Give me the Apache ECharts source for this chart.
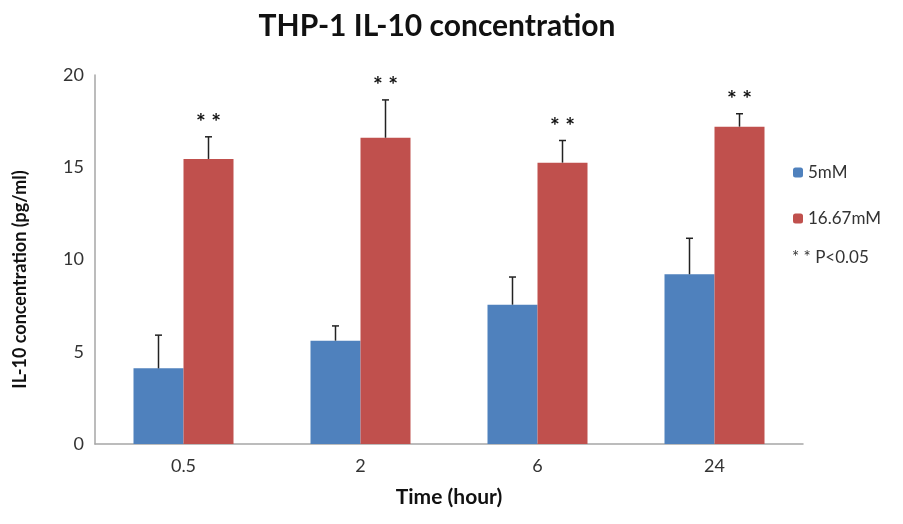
<!DOCTYPE html>
<html>
<head>
<meta charset="utf-8">
<script src="https://cdn.jsdelivr.net/npm/echarts@6/dist/echarts.min.js"></script>
<style>
  html, body { margin: 0; padding: 0; background: #fff; }
  #main { width: 903px; height: 524px; }
</style>
</head>
<body>
<div id="main"></div>
<script>
// 数据
var categories = ['0.5', '2', '6', '24'];
var low = [4.1, 5.6, 7.55, 9.2];        // 5mM
var lowErr = [1.8, 0.8, 1.5, 1.95];
var high = [15.45, 16.6, 15.25, 17.2];  // 16.67mM
var highErr = [1.2, 2.05, 1.2, 0.7];
var yTicks = [0, 5, 10, 15, 20];

var BLUE = '#4f81bd', RED = '#c0504d';
var CAT_GAP = 0.435;

function errData(vals, errs) {
  return vals.map(function (v, i) { return [i, v, errs[i]]; });
}

// 误差线 (只画上方), side: -1 左边柱, 1 右边柱
function errorRenderer(side, stars) {
  return function (params, api) {
    var i = api.value(0);
    var top = api.coord([i, api.value(1) + api.value(2)]);
    var base = api.coord([i, api.value(1)]);
    var band = api.size([1, 0])[0];
    var bw = band * (1 - CAT_GAP) / 2;
    var x = base[0] + side * bw / 2;
    var children = [
      { type: 'line', shape: { x1: x, y1: base[1], x2: x, y2: top[1] },
        style: { stroke: '#222', lineWidth: 1.5 } },
      { type: 'line', shape: { x1: x - 3.5, y1: top[1], x2: x + 3.5, y2: top[1] },
        style: { stroke: '#222', lineWidth: 1.5 } }
    ];
    if (stars) {
      children.push({ type: 'text', style: {
        x: x, y: top[1] - 14, text: '* *', align: 'center', verticalAlign: 'middle',
        font: 'bold 23px Lato', fill: '#111' } });
    }
    return { type: 'group', children: children };
  };
}

var myChart = echarts.init(document.getElementById('main'));
myChart.setOption({
  backgroundColor: '#fff',
  animation: false,
  title: {
    text: 'THP-1 IL-10 concentration',
    left: 432, top: 6, textAlign: 'center',
    textStyle: { fontFamily: 'Lato', fontWeight: 'bold', fontSize: 30, color: '#111' }
  },
  legend: {
    orient: 'vertical', left: 788, top: 159,
    itemWidth: 10, itemHeight: 10, itemGap: 29,
    data: ['5mM', '16.67mM'],
    textStyle: { fontFamily: 'Lato', fontSize: 17, color: '#333' }
  },
  graphic: [{
    type: 'text', left: 792, top: 249,
    style: { text: '* * P<0.05', font: '17px Lato', fill: '#333' }
  }],
  grid: { left: 95, right: 100, top: 75, bottom: 80 },
  xAxis: {
    type: 'category', data: categories,
    name: 'Time (hour)', nameLocation: 'middle', nameGap: 43,
    nameTextStyle: { fontFamily: 'Lato', fontWeight: 'bold', fontSize: 21, color: '#111' },
    axisLine: { lineStyle: { color: '#a6a6a6', width: 1.5 } },
    axisTick: { show: false },
    axisLabel: { margin: 13, fontFamily: 'Lato', fontSize: 18, color: '#333' }
  },
  yAxis: {
    type: 'value', min: yTicks[0], max: yTicks[yTicks.length - 1], interval: 5,
    name: 'IL-10 concentration (pg/ml)', nameLocation: 'middle', nameGap: 66,
    nameTextStyle: { fontFamily: 'Lato', fontWeight: 'bold', fontSize: 18, color: '#111',
      padding: [0, 40, 0, 0] },
    axisLine: { show: true, lineStyle: { color: '#a6a6a6', width: 1.5 } },
    axisTick: { show: false },
    splitLine: { show: false },
    axisLabel: { margin: 11, fontFamily: 'Lato', fontSize: 18, color: '#333' }
  },
  series: [
    { name: '5mM', type: 'bar', data: low, barGap: 0, barCategoryGap: (CAT_GAP * 100) + '%',
      itemStyle: { color: BLUE } },
    { name: '16.67mM', type: 'bar', data: high, barGap: 0, barCategoryGap: (CAT_GAP * 100) + '%',
      itemStyle: { color: RED } },
    { type: 'custom', data: errData(low, lowErr), renderItem: errorRenderer(-1, false),
      encode: { x: 0, y: 1 }, z: 5 },
    { type: 'custom', data: errData(high, highErr), renderItem: errorRenderer(1, true),
      encode: { x: 0, y: 1 }, z: 5 }
  ]
});
window.onresize = function () { myChart.resize(); };
</script>
</body>
</html>
